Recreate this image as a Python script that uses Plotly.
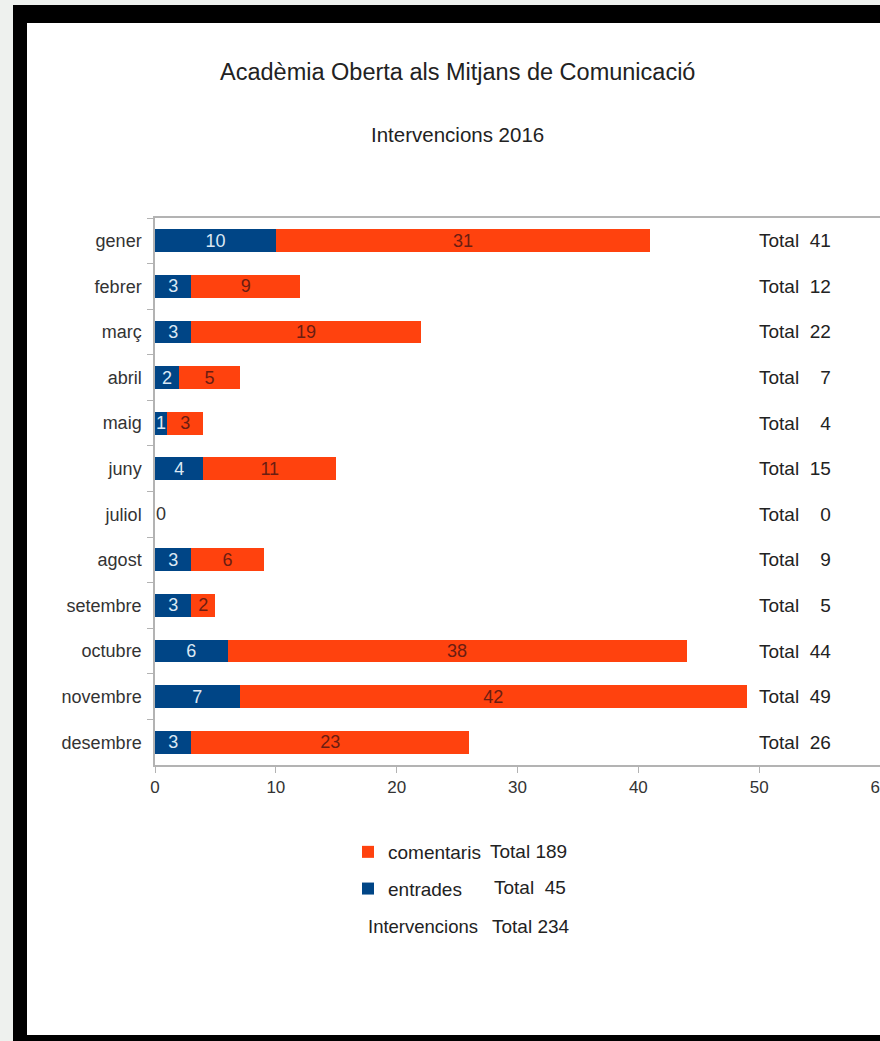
import plotly.graph_objects as go

months = ["gener", "febrer", "març", "abril", "maig", "juny", "juliol",
          "agost", "setembre", "octubre", "novembre", "desembre"]
entrades = [10, 3, 3, 2, 1, 4, 0, 3, 3, 6, 7, 3]
comentaris = [31, 9, 19, 5, 3, 11, 0, 6, 2, 38, 42, 23]
x_ticks = [0, 10, 20, 30, 40, 50, 60]

title_text = "Acadèmia Oberta als Mitjans de Comunicació"
subtitle_text = "Intervencions 2016"

BLUE = "#004586"
ORANGE = "#ff420e"
FONT = "Liberation Sans, Arial, sans-serif"
W, H = 880, 1041
L, R, T, B = 155, 880, 218, 765


def px(x):
    return (x - L) / (R - L)


def py(y):
    return (B - y) / (B - T)


totals = [e + c for e, c in zip(entrades, comentaris)]

fig = go.Figure()
fig.add_trace(go.Bar(
    y=months, x=entrades, orientation="h", name="entrades",
    marker=dict(color=BLUE, line=dict(width=0)),
    text=[str(v) if v > 0 else "" for v in entrades],
    textposition="inside", insidetextanchor="middle", textangle=0,
    textfont=dict(color="#dce8f4", size=18, family=FONT),
    legendgroup="e", legendrank=2, cliponaxis=False,
))
fig.add_trace(go.Bar(
    y=months, x=comentaris, orientation="h", name="comentaris",
    marker=dict(color=ORANGE, line=dict(width=0)),
    text=[str(v) if v > 0 else "" for v in comentaris],
    textposition="inside", insidetextanchor="middle", textangle=0,
    textfont=dict(color="#6b1d12", size=18, family=FONT),
    legendgroup="c", legendrank=1, cliponaxis=False,
))

shapes = [
    dict(type="rect", xref="paper", yref="paper", layer="below",
         x0=px(13), x1=px(900), y0=py(1060), y1=py(5),
         fillcolor="#000000", line=dict(width=0)),
    dict(type="rect", xref="paper", yref="paper", layer="below",
         x0=px(27), x1=px(900), y0=py(1035), y1=py(23),
         fillcolor="#ffffff", line=dict(width=0)),
]

annotations = [
    dict(text=title_text, x=px(457), y=py(72), xref="paper", yref="paper",
         showarrow=False, font=dict(size=23.5, color="#222222", family=FONT),
         xanchor="center", yanchor="middle"),
    dict(text=subtitle_text, x=px(457), y=py(135), xref="paper", yref="paper",
         showarrow=False, font=dict(size=20.5, color="#222222", family=FONT),
         xanchor="center", yanchor="middle"),
]

# zero label for an empty month
for m, e, c in zip(months, entrades, comentaris):
    if e + c == 0:
        annotations.append(dict(text=str(e), x=0, y=m, xref="x", yref="y",
                                showarrow=False, xanchor="left", xshift=-1,
                                font=dict(size=18, color="#333333", family=FONT)))

# row totals on the right
for m, t in zip(months, totals):
    num = str(t) if t >= 10 else "\u2007" + str(t)
    annotations.append(dict(text="Total\u00a0\u00a0" + num, x=px(757), y=m,
                            xref="paper", yref="y", showarrow=False,
                            xanchor="left", yanchor="middle",
                            font=dict(size=19, color="#222222", family=FONT)))

sum_c = sum(comentaris)
sum_e = sum(entrades)
annotations += [
    dict(text="Total " + str(sum_c), x=px(488), y=py(851), xref="paper", yref="paper",
         showarrow=False, xanchor="left", yanchor="middle",
         font=dict(size=19, color="#222222", family=FONT)),
    dict(text="Total\u00a0\u00a0" + str(sum_e), x=px(492), y=py(887), xref="paper", yref="paper",
         showarrow=False, xanchor="left", yanchor="middle",
         font=dict(size=19, color="#222222", family=FONT)),
    dict(text="Intervencions", x=px(366), y=py(926), xref="paper", yref="paper",
         showarrow=False, xanchor="left", yanchor="middle",
         font=dict(size=18.5, color="#222222", family=FONT)),
    dict(text="Total " + str(sum_c + sum_e), x=px(490), y=py(926), xref="paper", yref="paper",
         showarrow=False, xanchor="left", yanchor="middle",
         font=dict(size=19, color="#222222", family=FONT)),
]

fig.update_layout(
    width=W, height=H,
    margin=dict(l=L, r=W - R, t=T, b=H - B, pad=0, autoexpand=False),
    paper_bgcolor="#eef1ee", plot_bgcolor="rgba(0,0,0,0)",
    barmode="stack", bargap=0.5,
    font=dict(family=FONT, color="#333333", size=18),
    uniformtext=dict(minsize=18, mode="show"),
    showlegend=True,
    legend=dict(x=px(348), y=py(833), xanchor="left", yanchor="top",
                traceorder="grouped", tracegroupgap=9,
                bgcolor="rgba(0,0,0,0)", itemwidth=30,
                font=dict(size=19, color="#222222", family=FONT)),
    shapes=shapes, annotations=annotations,
)
fig.update_xaxes(range=[0, 60], tickvals=x_ticks, ticktext=[str(v) for v in x_ticks],
                 showgrid=False, zeroline=False, showline=True, linecolor="#b3b3b3",
                 linewidth=1.5, mirror=True, ticks="outside", ticklen=6,
                 tickcolor="#b3b3b3", ticklabeloverflow="allow", automargin=False,
                 tickfont=dict(size=17, color="#333333"))
fig.update_yaxes(categoryorder="array", categoryarray=months, autorange="reversed",
                 showgrid=False, zeroline=False, showline=True, linecolor="#b3b3b3",
                 linewidth=1.5, ticks="outside", ticklen=6, tickcolor="#b3b3b3",
                 tickson="boundaries", ticklabelstandoff=8, automargin=False,
                 tickfont=dict(size=18, color="#333333"))

fig.write_html("out.html")
